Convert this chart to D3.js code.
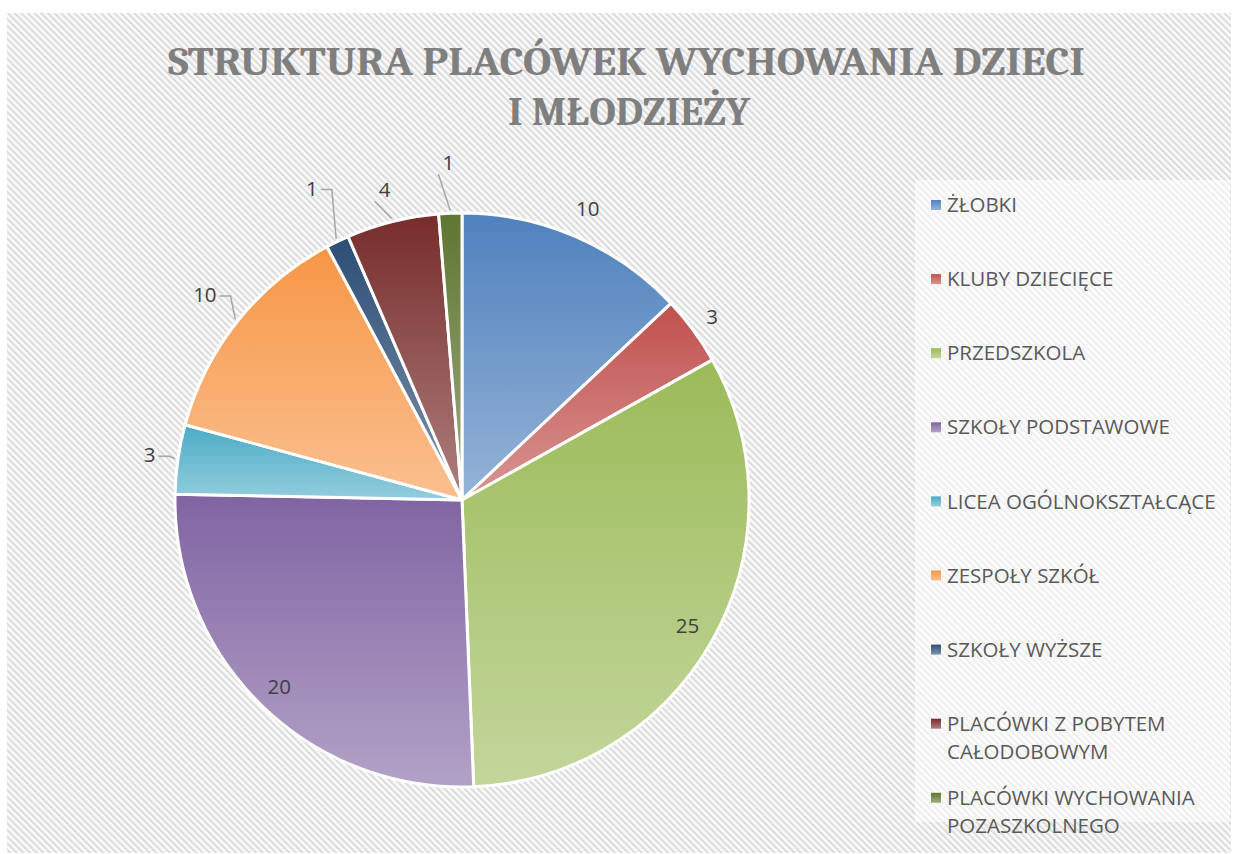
<!DOCTYPE html>
<html>
<head>
<meta charset="utf-8">
<script src="https://cdn.jsdelivr.net/npm/d3@7"></script>
<style>
  html, body { margin: 0; padding: 0; background: #fff; }
</style>
</head>
<body>
<svg id="chart"></svg>
<script>
// categories and values
const categories = [
  "ŻŁOBKI",
  "KLUBY DZIECIĘCE",
  "PRZEDSZKOLA",
  "SZKOŁY PODSTAWOWE",
  "LICEA OGÓLNOKSZTAŁCĄCE",
  "ZESPOŁY SZKÓŁ",
  "SZKOŁY WYŻSZE",
  "PLACÓWKI Z POBYTEM CAŁODOBOWYM",
  "PLACÓWKI WYCHOWANIA POZASZKOLNEGO",
];
const values = [10, 3, 25, 20, 3, 10, 1, 4, 1];
const legendLines = [
  ["ŻŁOBKI"],
  ["KLUBY DZIECIĘCE"],
  ["PRZEDSZKOLA"],
  ["SZKOŁY PODSTAWOWE"],
  ["LICEA OGÓLNOKSZTAŁCĄCE"],
  ["ZESPOŁY SZKÓŁ"],
  ["SZKOŁY WYŻSZE"],
  ["PLACÓWKI Z POBYTEM", "CAŁODOBOWYM"],
  ["PLACÓWKI WYCHOWANIA", "POZASZKOLNEGO"],
];
const titleLines = ["STRUKTURA PLACÓWEK WYCHOWANIA DZIECI", "I MŁODZIEŻY"];

const colors = ["#4F81BD", "#C0504D", "#9BBB59", "#8064A2", "#4BACC6", "#F79646", "#2C4D75", "#772C2A", "#5F7530"];

// label placement: radius factor along the slice mid angle, and whether a leader line is drawn
const labelRadius = [1.105, 1.08, 0.9, 0.91, 1.1, 1.146, 1.205, 1.113, 1.175];
const labelLeader = [false, false, false, false, true, true, true, true, true];

const width = 1233, height = 854;
const cx = 462, cy = 500, r = 287;

const svg = d3.select("#chart")
  .attr("width", width)
  .attr("height", height)
  .attr("viewBox", [0, 0, width, height]);

const defs = svg.append("defs");

// diagonal stripe background
const pat = defs.append("pattern")
  .attr("id", "stripes")
  .attr("patternUnits", "userSpaceOnUse")
  .attr("width", 4.7)
  .attr("height", 4.7)
  .attr("patternTransform", "rotate(-45)");
pat.append("rect").attr("width", 4.7).attr("height", 4.7).attr("fill", "#fafafa");
pat.append("rect").attr("width", 2.1).attr("height", 4.7).attr("fill", "#dcdcdc");

svg.append("rect")
  .attr("x", 7).attr("y", 13)
  .attr("width", width - 9).attr("height", height - 14)
  .attr("fill", "url(#stripes)");

// legend backdrop
svg.append("rect")
  .attr("x", 915).attr("y", 180)
  .attr("width", 315).attr("height", 642)
  .attr("fill", "#fff")
  .attr("opacity", 0.55);

// gradients, dark at top to light at bottom
colors.forEach((c, i) => {
  const g = defs.append("linearGradient")
    .attr("id", "grad" + i)
    .attr("x1", 0).attr("y1", 0).attr("x2", 0).attr("y2", 1);
  g.append("stop").attr("offset", "0%").attr("stop-color", c);
  g.append("stop").attr("offset", "100%").attr("stop-color", d3.interpolateRgb(c, "#fff")(0.4));
});

// title
svg.append("g")
  .selectAll("text")
  .data(titleLines)
  .join("text")
  .attr("x", (d, i) => (i === 0 ? 626.5 : 629))
  .attr("y", (d, i) => 75 + i * 50)
  .attr("text-anchor", "middle")
  .attr("textLength", (d, i) => (i === 0 ? 917 : 242))
  .attr("lengthAdjust", "spacingAndGlyphs")
  .style("font", "bold 40px Cambria, 'Liberation Serif', serif")
  .style("fill", "#7f7f7f")
  .text((d) => d);

// pie
const pie = d3.pie().sort(null).value((d) => d);
const arcs = pie(values);
const arc = d3.arc().innerRadius(0).outerRadius(r);

const g = svg.append("g").attr("transform", `translate(${cx},${cy})`);

g.selectAll("path")
  .data(arcs)
  .join("path")
  .attr("d", arc)
  .attr("fill", (d, i) => `url(#grad${i})`)
  .attr("stroke", "#fff")
  .attr("stroke-width", 3)
  .attr("stroke-linejoin", "round");

// data labels
const fontLabel = "20.5px 'Open Sans', sans-serif";
const labels = g.append("g")
  .selectAll("text")
  .data(arcs)
  .join("text")
  .attr("x", (d, i) => Math.sin((d.startAngle + d.endAngle) / 2) * r * labelRadius[i])
  .attr("y", (d, i) => -Math.cos((d.startAngle + d.endAngle) / 2) * r * labelRadius[i])
  .attr("text-anchor", "middle")
  .attr("dy", "0.35em")
  .style("font", fontLabel)
  .style("fill", "#404040")
  .text((d) => d.value);

// leader lines
labels.each(function (d, i) {
  if (!labelLeader[i]) return;
  const box = this.getBBox();
  const mid = (d.startAngle + d.endAngle) / 2;
  const ex = Math.sin(mid) * (r + 3);
  const ey = -Math.cos(mid) * (r + 3);
  const right = box.x + box.width;
  let pts;
  if (ex > right + 4) {
    const y0 = box.y + box.height / 2 + 2;
    const x0 = right + 3;
    const x1 = Math.min(x0 + 11, ex);
    pts = [[x0, y0], [x1, y0], [ex, ey]];
  } else {
    pts = [[box.x - 4, box.y + box.height - 2], [ex, ey]];
  }
  g.append("path")
    .attr("d", d3.line()(pts))
    .attr("fill", "none")
    .attr("stroke", "#a6a6a6")
    .attr("stroke-width", 1.5);
});

// legend
const legend = svg.append("g")
  .selectAll("g")
  .data(categories)
  .join("g")
  .attr("transform", (d, i) => `translate(931, ${205 + i * 74.1})`);

legend.append("rect")
  .attr("x", 0).attr("y", -5)
  .attr("width", 10).attr("height", 10)
  .attr("fill", (d, i) => `url(#grad${i})`);

legend.append("text")
  .style("font", fontLabel)
  .style("fill", "#595959")
  .selectAll("tspan")
  .data((d, i) => legendLines[i])
  .join("tspan")
  .attr("x", 16)
  .attr("y", (d, j) => j * 28)
  .attr("dy", "0.35em")
  .text((d) => d);
</script>
</body>
</html>
